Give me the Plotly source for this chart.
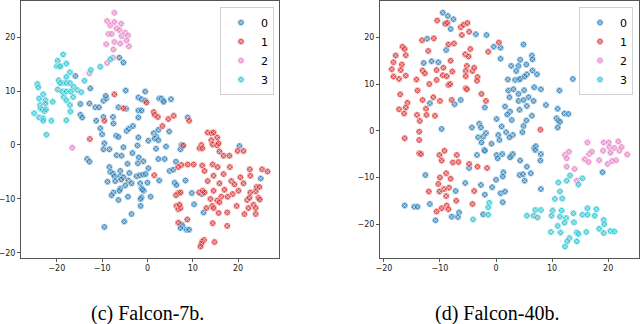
import plotly.graph_objects as go

# ---- (c) Falcon-7b : t-SNE points per cluster ----
left_0_x = [-6.2, -5.3, -15.9, -12.6, -14.8, -12.8, -11.5, -10.7, -9.7, -9.1, -9.2, -4.8, -6.4, -4.7, -2.0, -1.3,
            -0.5, -14.8, -14.4, -11.3, -9.7, -7.6, -7.5, -10.4, -10.0, -4.6, -4.1, -3.2, -2.0, -1.3, -2.0, -6.9,
            -6.4, -2.0, 1.4, 2.0, 2.6, -0.5, 3.1, 3.5, 3.6, 5.2, 8.9, 4.8, 2.4, 1.6, -9.5, -9.7, -8.4, -5.3,
            -2.2, 0.2, 2.4, 1.9, -13.3, -12.8, -6.8, -5.7, -3.3, -1.9, -4.4, -2.1, -0.9, 2.4, -8.4, -6.0, 0.2,
            -8.2, -7.6, -7.3, -6.0, -5.3, -5.8, -4.0, -2.4, -1.7, -1.0, -0.4, 2.6, -8.8, -7.1, -4.2, -3.5, -4.9,
            -6.0, -6.2, -1.6, -1.3, -0.8, -7.5, -7.9, 0.7, -4.3, -1.3, -1.5, -6.4, -1.5, -3.5, -5.1, -9.5, 4.1,
            7.5, 7.7, 7.3, 3.8, 6.3, 4.9, 5.7, 0.0, 6.0, 6.4, 8.4, -1.1, 9.8, 12.0, 10.3, 12.4, 7.5, 7.7, 7.3,
            8.6, 9.2, 20.3, 25.0]
left_0_y = [16.2, 15.3, 12.8, 10.5, 7.6, 7.7, 7.0, 7.0, 8.2, 8.6, 9.1, 10.1, 7.0, 6.7, 8.8, 8.5,
            9.9, 5.6, 5.1, 4.5, 5.2, 5.2, 4.0, 3.1, 2.0, 2.6, 3.0, 3.5, 6.4, 6.4, 5.1, 1.7,
            1.5, 1.4, 2.2, 1.5, 8.6, 8.2, 8.6, 8.2, 8.0, 8.5, 5.1, 2.5, 2.8, 1.2, 0.3, -0.8, -0.8, -0.4,
            -0.1, 0.8, 0.9, -0.7, -2.6, -3.1, -1.9, -2.0, -1.5, -2.3, -3.5, -3.4, -3.0, -2.6, -4.1, -4.8, -4.3,
            -5.0, -5.3, -5.8, -5.8, -6.0, -6.4, -5.2, -5.8, -5.6, -5.5, -5.4, -6.6, -6.8, -6.7, -6.6, -7.1, -7.5,
            -8.1, -8.5, -7.1, -8.0, -8.5, -8.8, -9.3, -9.6, -9.6, -9.7, -10.0, -10.2, -11.3, -12.8, -14.2, -15.2, -0.3,
            0.0, -0.2, -0.8, -2.6, -3.1, -4.8, -4.6, -7.0, -7.0, -7.4, -6.6, -8.3, -8.9, -9.1, -11.0, -12.5, -14.7, -15.0,
            -15.4, -15.7, -15.7, -0.2, -6.2]

left_1_x = [-7.3, -9.5, -5.3, -0.2, 1.4, 1.6, 2.3, -12.7, 5.8, 4.6, 3.3, 9.2, 13.3, 14.1, 14.6, 15.4, 1.5,
            14.1, 11.9, 11.5, 12.1, 14.4, 15.4, 15.7, 7.9, 15.9, 16.8, 18.1, 19.9, 21.2, 7.5, 6.8, 8.9, 10.2,
            12.1, 12.6, 14.4, 15.5, 16.8, 18.2, 22.6, 25.3, 26.5, 13.3, 14.6, 15.9, 18.5, 19.2, 20.5, 21.2, 22.7,
            24.1, 24.7, 23.9, 6.8, 6.3, 7.3, 11.4, 12.2, 12.6, 14.6, 17.0, 18.8, 20.1, 22.7, 16.3, 17.7, 13.9,
            15.4, 15.9, 22.0, 22.5, 24.5, 24.8, 6.4, 6.8, 7.3, 7.1, 13.0, 14.3, 14.6, 15.7, 17.6, 19.7, 22.3,
            23.4, 23.9, 21.4, 23.9, 8.8, 6.8, 14.4, 17.6, 12.5, 12.1, 11.9, 11.7, 14.8]
left_1_y = [9.4, 4.5, 6.8, 7.9, 6.1, 5.6, 5.2, 1.1, 5.4, 4.8, 3.5, 4.5, 2.3, 2.2, 2.3, 1.4, -5.6,
            0.9, 0.0, -0.6, -0.6, 0.1, -0.1, 0.3, -0.1, -1.2, -2.0, -2.0, -1.1, -1.1, -3.7, -4.1, -3.6, -3.6,
            -3.8, -4.8, -3.6, -4.1, -5.4, -4.1, -4.5, -4.5, -4.9, -6.7, -5.7, -7.1, -6.7, -7.3, -6.0, -7.1, -5.7,
            -7.8, -7.8, -8.6, -8.9, -9.3, -8.8, -8.8, -8.5, -8.8, -8.5, -8.3, -9.1, -8.5, -8.8, -9.6, -9.6, -10.0,
            -10.3, -10.6, -10.2, -9.8, -9.8, -10.1, -11.3, -11.9, -11.7, -11.1, -11.7, -11.3, -11.7, -12.6, -12.5, -11.3, -11.7,
            -11.1, -11.7, -12.8, -12.8, -13.8, -14.4, -14.5, -15.0, -17.6, -17.9, -18.3, -18.8, -18.0]

left_2_x = [-7.3, -8.9, -8.2, -7.3, -5.8, -6.8, -6.2, -8.6, -7.9, -5.7, -4.9, -4.3, -4.6, -7.3, -9.1, -6.0,
            -4.1, -7.5, -8.9, -7.6, -12.8, -16.6]
left_2_y = [24.5, 23.0, 22.2, 22.8, 22.5, 21.6, 21.3, 20.6, 20.6, 20.2, 20.8, 20.3, 19.4, 19.1, 18.7, 18.8,
            18.3, 17.7, 15.2, 16.2, 13.3, -0.5]

left_3_x = [-18.6, -19.8, -20.0, -19.5, -19.2, -17.9, -17.1, -17.9, -19.6, -18.8, -19.3, -17.9, -17.1, -16.3,
            -15.5, -14.6, -13.9, -12.5, -10.4, -8.2, -19.8, -18.8, -17.9, -16.9, -18.5, -17.9, -16.4, -17.1,
            -17.0, -17.9, -24.3, -24.1, -23.0, -23.9, -22.5, -22.5, -20.9, -23.7, -23.6, -23.2, -22.7, -22.4,
            -25.0, -23.9, -23.0, -23.0, -21.2, -22.3]
left_3_y = [16.8, 15.6, 14.6, 14.6, 14.6, 15.1, 13.5, 12.6, 12.0, 11.5, 11.5, 11.5, 11.5, 10.8,
            10.2, 9.8, 11.9, 13.9, 14.5, 15.9, 10.3, 9.9, 9.9, 9.9, 8.9, 8.3, 8.9, 7.4,
            6.2, 4.6, 11.3, 10.7, 9.4, 8.6, 8.3, 7.7, 8.0, 7.4, 6.8, 6.6, 6.3, 6.6,
            5.9, 5.1, 4.9, 4.5, 4.5, 1.9]

# ---- (d) Falcon-40b ----
right_0_x = [-9.5, -8.6, -7.6, -9.1, -8.1, -12.3, -3.6, -1.7, -8.9, -11.5, -10.3, -12.9, -6.3, -7.4, -11.8, -9.7,
             -2.0, -4.3, -3.0, -2.7, -3.2, -2.3, -1.8, -2.6, -2.1, -3.4, -4.8, -12.6, -5.5, -2.7, -7.2, -2.0,
             -16.3, -14.6, -14.0, -11.8, -6.6, -7.9, -6.8, -10.8, -2.3, -0.4, 0.8, 4.9, 0.8, 6.4, 6.5, 2.7,
             4.0, 4.3, 5.4, 3.6, 6.5, 5.5, 7.3, 2.1, 3.4, 4.0, 4.3, 5.1, 13.7, 2.2, 3.1, 5.0, 6.8, 8.0, 11.3,
             2.4, 4.0, 5.8, 4.0, 4.9, 6.7, 1.6, 5.5, 8.9, 4.2, 2.5, 2.0, 11.0, 12.2, 12.9, 6.4, 0.1, 2.8, 5.4,
             10.8, 11.1, 1.0, 4.9, 11.0, 1.8, 4.7, 3.0, 2.4, 11.4, 0.4, 0.6, -0.8, -2.0, 0.1, 0.3, 1.1, 2.7,
             3.0, 2.5, 4.3, 5.5, 6.8, 7.1, 7.0, 8.0, 7.9, 1.3, 1.2, 4.2, 4.8, 6.2, 5.1, 0.0, -0.7, 8.0, 0.8,
             1.6, 1.2, 19.0]
right_0_y = [25.3, 24.6, 23.9, 23.0, 21.8, 19.7, 20.7, 20.5, 17.3, 14.9, 14.7, 14.5, 6.6, 5.7, 5.9, 0.4,
             5.0, 0.7, 1.5, 0.7, -1.4, -1.3, -0.5, -2.5, -4.1, -5.2, -8.0, -9.5, -11.2, -11.6, -12.9, -13.7,
             -16.0, -16.3, -16.3, -15.7, -17.5, -18.4, -18.5, -19.2, -17.9, 18.0, 17.8, 18.5, 15.4, 16.1, 15.3, 13.9,
             13.9, 15.2, 14.2, 12.8, 12.9, 12.1, 12.1, 11.0, 10.9, 11.0, 11.1, 11.6, 11.1, 8.6, 8.9, 8.7, 9.3, 8.9, 8.6,
             7.2, 7.9, 7.2, 6.4, 6.6, 6.4, 5.2, 5.3, 5.5, 4.5, 4.1, 3.5, 4.7, 3.7, 3.6, 3.2, 2.5, 2.3, 2.2,
             2.7, 2.2, 0.9, 1.0, 0.7, -0.3, -0.3, -0.9, -1.4, 1.9, -0.9, -2.0, -2.8, -4.3, -5.2, -5.9, -5.0, -5.4,
             -5.0, -5.7, -6.4, -7.7, -3.7, -3.3, -4.1, -5.0, -6.4, -8.9, -9.8, -9.5, -9.3, -9.1, -10.7, -10.5, -12.1, -12.5, -13.4,
             -13.0, -15.3, -8.9]

right_1_x = [-10.5, -9.0, -8.7, -6.3, -5.8, -5.1, -4.8, -6.1, -13.2, -11.1, -16.7, -16.3, -16.1, -17.9, -18.3,
             -16.8, -18.6, -17.0, -18.3, -16.1, -17.3, -12.1, -8.5, -7.5, -5.5, -4.6, -8.1, -9.4, -10.6, -13.1,
             -12.7, -7.8, -9.5, -8.8, -14.2, -10.6, -11.9, -8.5, -8.2, -4.9, -5.2, -5.4, -4.2, -3.9, -5.4, -3.3,
             -3.4, -5.4, -5.2, -14.0, -17.1, -15.8, -13.1, -11.2, -10.0, -7.9, -17.3, -16.1, -16.4, -12.5, -12.4,
             -14.1, -10.9, -13.6, -2.6, -1.8, -1.4, -16.3, -13.7, -13.7, -13.7, -13.4, -9.2, -10.1, -9.7, -7.0,
             -7.7, -6.7, -4.8, -3.3, -1.6, -8.9, -10.0, -8.1, -10.3, -8.4, -9.3, -10.1, -12.0, -7.1, -8.9, -3.9,
             -4.2, -8.8, -9.7, -8.5, -10.6, 0.5, 7.9]
right_1_y = [23.6, 22.9, 23.1, 22.2, 22.7, 23.1, 21.2, 20.5, 19.4, 19.8, 18.0, 17.5, 16.2, 16.1, 14.7,
             14.2, 13.2, 13.0, 11.6, 11.8, 11.1, 17.1, 18.5, 18.7, 16.4, 17.5, 15.0, 13.5, 13.0, 12.9,
             12.3, 12.7, 11.9, 11.7, 11.0, 10.9, 10.0, 9.8, 10.0, 15.9, 13.9, 12.8, 12.8, 13.5, 11.7, 11.5,
             10.7, 9.1, 8.9, 8.6, 7.8, 6.0, 6.6, 7.2, 6.4, 6.6, 4.6, 5.0, 3.7, 4.7, 3.4,
             3.4, 3.2, 2.1, 7.9, 6.4, 16.9, -1.6, -0.2, -2.0, -4.8, -5.0, -4.3, -5.2, -6.4, -5.2,
             -6.8, -6.7, -7.1, -7.7, -8.0, -9.1, -10.0, -10.3, -11.4, -12.2, -12.5, -13.0, -13.0, -15.0, -14.0, -12.9,
             -15.7, -16.0, -16.6, -16.8, -17.3, 18.9, 0.2]

right_2_x = [16.3, 12.3, 12.6, 13.0, 12.6, 14.0, 14.4, 15.8, 16.6, 17.1, 16.5, 18.4, 19.1, 19.2, 20.1, 20.2,
             20.4, 21.1, 21.8, 22.0, 22.4, 19.9, 20.7, 21.4, 23.4]
right_2_y = [-2.5, -5.2, -5.9, -4.5, -7.7, -8.2, -10.7, -6.1, -5.0, -4.5, -6.7, -6.3, -4.3, -2.5, -2.5, -3.5,
             -4.7, -3.7, -2.3, -4.3, -3.5, -7.1, -6.5, -6.3, -5.1]

right_3_x = [-4.1, -1.4, -1.2, -1.4, 11.1, 12.6, 13.2, 15.4, 14.7, 11.4, 10.5, 11.8, 7.0, 8.0, 5.5, 6.7, 7.4,
             10.1, 11.7, 9.9, 11.4, 12.5, 13.8, 13.9, 15.4, 16.3, 16.3, 17.9, 17.6, 12.2, 11.0, 9.8, 11.5, 14.4,
             14.7, 16.1, 13.1, 12.7, 12.3, 14.4, 19.2, 19.3, 18.4, 20.4, 21.1, 19.2]
right_3_y = [-19.0, -18.0, -15.4, -16.4, -11.1, -10.7, -9.6, -10.2, -11.5, -13.0, -14.6, -14.5, -17.0, -17.0, -18.2, -18.2, -18.6,
             -17.1, -17.1, -18.2, -18.4, -18.7, -17.7, -19.6, -18.0, -18.0, -16.6, -16.8, -18.2, -19.7, -20.4, -21.7, -21.8, -21.8,
             -22.1, -21.7, -23.0, -23.7, -24.8, -23.7, -19.1, -20.0, -21.0, -21.5, -21.6, -21.9]

labels = ["0", "1", "2", "3"]
colors = ["#1f77b4", "#d62728", "#e377c2", "#17becf"]

left_sets = [(left_0_x, left_0_y), (left_1_x, left_1_y), (left_2_x, left_2_y), (left_3_x, left_3_y)]
right_sets = [(right_0_x, right_0_y), (right_1_x, right_1_y), (right_2_x, right_2_y), (right_3_x, right_3_y)]

fig = go.Figure()

for i, (xs, ys) in enumerate(left_sets):
    fig.add_trace(go.Scatter(
        x=xs, y=ys, mode="markers", name=labels[i],
        marker=dict(symbol="circle-x", size=6.5, color=colors[i], opacity=0.78,
                    line=dict(color="white", width=0.6)),
        xaxis="x", yaxis="y", legend="legend"
    ))

for i, (xs, ys) in enumerate(right_sets):
    fig.add_trace(go.Scatter(
        x=xs, y=ys, mode="markers", name=labels[i],
        marker=dict(symbol="circle-x", size=6.5, color=colors[i], opacity=0.78,
                    line=dict(color="white", width=0.6)),
        xaxis="x2", yaxis="y2", legend="legend2"
    ))

axis_style = dict(
    showgrid=False, zeroline=False, showline=True, mirror=True, automargin=False,
    linecolor="#555555", linewidth=1, ticks="outside", ticklen=3,
    tickcolor="#555555", tickfont=dict(family="DejaVu Sans", size=8, color="#222222"),
    tickvals=[-20, -10, 0, 10, 20]
)

legend_style = dict(
    bgcolor="white", bordercolor="#d0d0d0", borderwidth=1,
    font=dict(family="DejaVu Sans", size=11, color="black"),
    xanchor="right", yanchor="top", itemwidth=30, tracegroupgap=0
)

caption_font = dict(family="Liberation Serif", size=20, color="black")

fig.update_layout(
    width=640, height=324,
    margin=dict(l=0, r=0, t=0, b=0, autoexpand=False),
    paper_bgcolor="white", plot_bgcolor="white",
    xaxis=dict(domain=[21 / 640, 279.3 / 640], range=[-27.9, 29.1], anchor="y", **axis_style),
    yaxis=dict(domain=[1 - 257.7 / 324, 1 - 1 / 324], range=[-20.9, 26.7], anchor="x", **axis_style),
    xaxis2=dict(domain=[380 / 640, 639 / 640], range=[-20.7, 25.5], anchor="y2", **axis_style),
    yaxis2=dict(domain=[1 - 257.7 / 324, 1 - 1 / 324], range=[-27.2, 27.8], anchor="x2", **axis_style),
    legend=dict(x=274 / 640, y=1 - 7 / 324, **legend_style),
    legend2=dict(x=633 / 640, y=1 - 7 / 324, **legend_style),
    annotations=[
        dict(text="(c) Falcon-7b.", x=147 / 640, y=1 - 313 / 324, xref="paper", yref="paper",
             xanchor="center", yanchor="middle", showarrow=False, font=caption_font),
        dict(text="(d) Falcon-40b.", x=497 / 640, y=1 - 313 / 324, xref="paper", yref="paper",
             xanchor="center", yanchor="middle", showarrow=False, font=caption_font),
    ],
)

# page body has a default 8px margin; drop it so the figure sits at the window origin
fig.write_html("out.html", config={"displayModeBar": False},
               post_script="document.body.style.margin = '0';")
